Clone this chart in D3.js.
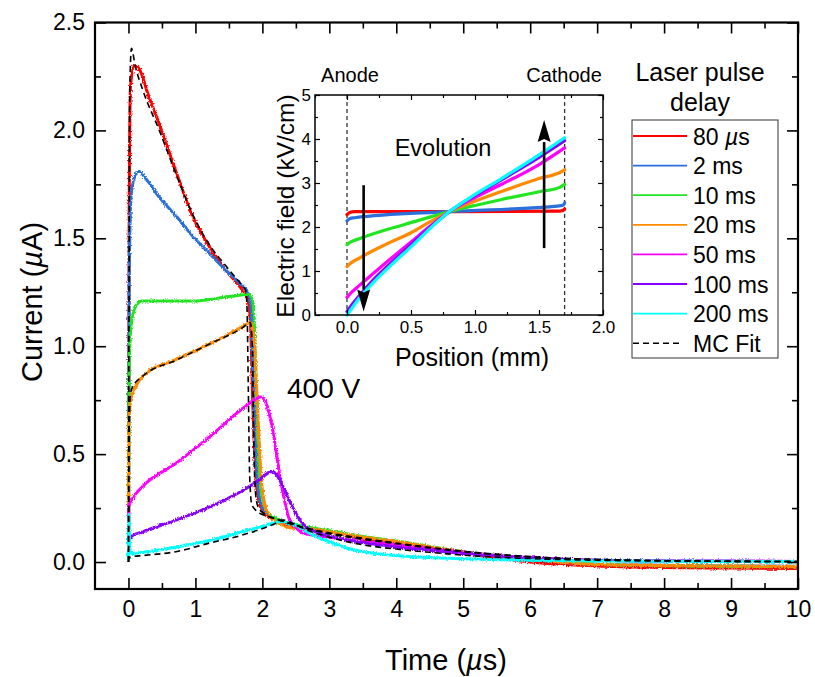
<!DOCTYPE html>
<html>
<head>
<meta charset="utf-8">
<script src="https://cdn.jsdelivr.net/npm/d3@7"></script>
<style>
  html, body { margin: 0; padding: 0; background: #fff; }
  svg { display: block; font-family: Arial, "Liberation Sans", sans-serif; }
</style>
</head>
<body>
<svg id="chart" width="815" height="677"></svg>
<script>
// ---- Transient photocurrent (µA) vs time (µs) for each laser pulse delay ----
const delays = ["80 µs", "2 ms", "10 ms", "20 ms", "50 ms", "100 ms", "200 ms"];
const colors = ["#ff0000", "#2a6fdb", "#22e522", "#ff8a00", "#ff00ff", "#8a00ff", "#00ffff"];

const current80us = [[0,0],[0.01,1.6],[0.03,2.2],[0.08,2.30],[0.15,2.29],[0.3,2.16],[0.46,2.03],[0.72,1.80],[0.96,1.60],[1.21,1.46],[1.46,1.35],[1.70,1.26],[1.78,1.22],[1.82,1.12],[1.86,0.7],[1.90,0.40],[1.95,0.28],[2.02,0.23],[2.15,0.2],[2.3,0.18],[2.5,0.165],[2.75,0.155],[3,0.14],[3.5,0.11],[4,0.09],[4.5,0.065],[5,0.04],[5.5,0.02],[6,0.0],[7,-0.018],[8,-0.025],[9,-0.028],[10,-0.03]];
const current2ms = [[0,0],[0.01,1.3],[0.04,1.7],[0.1,1.79],[0.16,1.81],[0.25,1.78],[0.46,1.69],[0.72,1.60],[0.96,1.51],[1.21,1.43],[1.46,1.35],[1.70,1.28],[1.78,1.25],[1.83,1.18],[1.88,0.7],[1.92,0.4],[1.97,0.28],[2.05,0.23],[2.2,0.2],[2.4,0.18],[2.75,0.155],[3,0.14],[3.5,0.115],[4,0.095],[4.5,0.07],[5,0.045],[5.5,0.028],[6,0.012],[7,-0.01],[8,-0.015],[9,-0.018],[10,-0.02]];
const current10ms = [[0,0],[0.01,0.9],[0.04,1.1],[0.1,1.18],[0.2,1.21],[0.5,1.21],[1.0,1.21],[1.5,1.23],[1.8,1.24],[1.86,1.2],[1.91,0.8],[1.95,0.45],[2.0,0.3],[2.08,0.23],[2.2,0.2],[2.4,0.18],[2.75,0.158],[3,0.145],[3.5,0.118],[4,0.097],[4.5,0.072],[5,0.048],[5.5,0.03],[6,0.015],[7,-0.01],[8,-0.017],[9,-0.02],[10,-0.022]];
const current20ms = [[0,0],[0.005,0.65],[0.04,0.76],[0.12,0.82],[0.21,0.86],[0.72,0.94],[1.21,1.01],[1.70,1.09],[1.82,1.11],[1.87,1.05],[1.93,0.7],[1.98,0.4],[2.05,0.25],[2.15,0.2],[2.3,0.17],[2.5,0.155],[2.75,0.152],[3,0.14],[3.5,0.115],[4,0.095],[4.5,0.07],[5,0.046],[5.5,0.028],[6,0.013],[7,-0.012],[8,-0.016],[9,-0.019],[10,-0.021]];
const current50ms = [[0,0],[0.005,0.26],[0.05,0.29],[0.21,0.35],[0.72,0.46],[1.21,0.58],[1.70,0.71],[1.9,0.755],[1.98,0.765],[2.05,0.74],[2.15,0.62],[2.25,0.42],[2.32,0.3],[2.4,0.2],[2.5,0.16],[2.6,0.135],[2.75,0.125],[3,0.115],[3.5,0.095],[4,0.08],[4.5,0.062],[5,0.045],[5.5,0.03],[6,0.02],[7,0.008],[8,0.005],[10,0.003]];
const current100ms = [[0,0],[0.005,0.1],[0.05,0.12],[0.21,0.14],[0.72,0.195],[1.21,0.255],[1.70,0.33],[1.95,0.38],[2.14,0.42],[2.2,0.41],[2.26,0.38],[2.35,0.32],[2.45,0.255],[2.55,0.2],[2.66,0.16],[2.8,0.14],[3,0.12],[3.5,0.09],[4,0.07],[4.5,0.055],[5,0.04],[6,0.02],[7,0.008],[8,0.005],[10,0.003]];
const current200ms = [[0,0],[0.005,0.22],[0.02,0.06],[0.05,0.04],[0.21,0.045],[0.72,0.07],[1.21,0.10],[1.70,0.14],[2.0,0.165],[2.26,0.187],[2.4,0.18],[2.5,0.17],[2.75,0.125],[3,0.094],[3.25,0.065],[3.5,0.048],[4,0.03],[5,0.015],[6,0.008],[7,0.005],[8,0.004],[10,0.002]];
const currents = [current80us, current2ms, current10ms, current20ms, current50ms, current100ms, current200ms];

// Monte Carlo fits
const fit80us = [[0,0],[0.02,2.2],[0.045,2.38],[0.1,2.3],[0.21,2.19],[0.46,2.0],[0.72,1.79],[0.96,1.61],[1.21,1.47],[1.46,1.37],[1.70,1.28],[1.75,1.26],[1.77,1.18],[1.79,0.8],[1.81,0.4],[1.84,0.27],[1.9,0.24],[2.0,0.22],[2.2,0.2],[2.5,0.17],[3,0.135],[3.5,0.11],[4,0.088],[4.5,0.068],[5,0.05],[6,0.025],[7,0.012],[8,0.006],[10,0.002]];
const fit20ms = [[0,0],[0.01,0.6],[0.03,0.78],[0.06,0.81],[0.21,0.86],[0.71,0.935],[1.21,1.01],[1.70,1.085],[1.82,1.11],[1.85,1.0],[1.87,0.6],[1.89,0.35],[1.93,0.26],[2.0,0.23],[2.2,0.2],[2.5,0.17],[3,0.13],[3.5,0.105],[4,0.085],[4.5,0.065],[5,0.048],[6,0.024],[7,0.011],[8,0.006],[10,0.002]];
const fit200ms = [[0,0],[0.01,0.02],[0.05,0.025],[0.21,0.03],[0.71,0.048],[1.21,0.088],[1.70,0.125],[2.2,0.18],[2.3,0.195],[2.45,0.18],[2.6,0.157],[3,0.115],[3.5,0.08],[4,0.06],[4.5,0.045],[5,0.032],[6,0.016],[7,0.008],[8,0.005],[10,0.002]];
const fits = [fit80us, fit20ms, fit200ms];

const xTicks = [0,1,2,3,4,5,6,7,8,9,10];
const yTicks = [0,0.5,1.0,1.5,2.0,2.5];

// ---- Inset: electric field (kV/cm) vs position (mm) ----
const field80us = [[0,2.28],[0.02,2.33],[0.06,2.35],[0.8,2.35],[1.66,2.36],[1.69,2.38],[1.7,2.41]];
const field2ms = [[0,2.14],[0.02,2.19],[0.06,2.21],[0.8,2.35],[1.66,2.48],[1.69,2.5],[1.7,2.55]];
const field10ms = [[0,1.6],[0.03,1.66],[0.1,1.74],[0.3,1.93],[0.5,2.1],[0.8,2.35],[1.0,2.49],[1.2,2.62],[1.5,2.8],[1.66,2.9],[1.7,2.97]];
const field20ms = [[0,1.1],[0.03,1.18],[0.1,1.3],[0.3,1.6],[0.5,1.87],[0.65,2.12],[0.8,2.35],[1.0,2.59],[1.2,2.8],[1.5,3.1],[1.67,3.25],[1.7,3.3]];
const field50ms = [[0,0.4],[0.03,0.5],[0.1,0.68],[0.2,0.93],[0.35,1.3],[0.5,1.66],[0.65,2.02],[0.8,2.35],[1.0,2.67],[1.2,2.96],[1.5,3.42],[1.7,3.8]];
const field100ms = [[0,0.08],[0.03,0.2],[0.1,0.45],[0.2,0.78],[0.35,1.2],[0.5,1.6],[0.65,1.99],[0.8,2.35],[1.0,2.72],[1.2,3.06],[1.5,3.58],[1.7,3.96]];
const field200ms = [[0,0.0],[0.03,0.12],[0.1,0.4],[0.2,0.72],[0.35,1.15],[0.5,1.55],[0.65,1.97],[0.8,2.35],[1.0,2.74],[1.2,3.09],[1.5,3.64],[1.7,4.03]];
const fields = [field80us, field2ms, field10ms, field20ms, field50ms, field100ms, field200ms];
const electrodePositions = [0, 1.7];
const insetXTicks = [0, 0.5, 1.0, 1.5, 2.0];
const insetYTicks = [0, 1, 2, 3, 4, 5];
// evolution arrows: [position, from field, to field]
const arrows = [[0.13, 2.95, 0.08], [1.54, 1.52, 4.43]];

const svg = d3.select("#chart");
const FONT = 'Arial, "Liberation Sans", sans-serif';
const defs = svg.append("defs");

// fine jitter for the measured traces (oscilloscope noise look)
const noise = defs.append("filter").attr("id", "traceNoise")
  .attr("x", "-2%").attr("y", "-2%").attr("width", "104%").attr("height", "104%");
noise.append("feTurbulence").attr("type", "fractalNoise").attr("baseFrequency", "0.9 0.6")
  .attr("numOctaves", 1).attr("seed", 3).attr("result", "n");
noise.append("feDisplacementMap").attr("in", "SourceGraphic").attr("in2", "n")
  .attr("scale", 4).attr("xChannelSelector", "R").attr("yChannelSelector", "G");

// ===== Main plot =====
const x = d3.scaleLinear().domain([-0.5, 10]).range([95, 798]);
const y = d3.scaleLinear().domain([-0.125, 2.5]).range([589, 22.5]);

function drawTicks(g, xs, ys, xTickVals, xMinor, yTickVals, yMinor, major, minor, sw) {
  const [x0, x1] = xs.range(), [y0, y1] = ys.range();
  const addAxis = (axis, tr) => {
    const a = g.append("g").attr("transform", tr).call(axis);
    a.select(".domain").remove();
    a.selectAll("line").attr("stroke", "#000").attr("stroke-width", sw);
  };
  addAxis(d3.axisBottom(xs).tickValues(xTickVals).tickSize(-major).tickFormat(""), `translate(0,${y0})`);
  addAxis(d3.axisBottom(xs).tickValues(xMinor).tickSize(-minor).tickFormat(""), `translate(0,${y0})`);
  addAxis(d3.axisTop(xs).tickValues(xTickVals).tickSize(-major).tickFormat(""), `translate(0,${y1})`);
  addAxis(d3.axisTop(xs).tickValues(xMinor).tickSize(-minor).tickFormat(""), `translate(0,${y1})`);
  addAxis(d3.axisLeft(ys).tickValues(yTickVals).tickSize(-major).tickFormat(""), `translate(${x0},0)`);
  addAxis(d3.axisLeft(ys).tickValues(yMinor).tickSize(-minor).tickFormat(""), `translate(${x0},0)`);
  addAxis(d3.axisRight(ys).tickValues(yTickVals).tickSize(-major).tickFormat(""), `translate(${x1},0)`);
  addAxis(d3.axisRight(ys).tickValues(yMinor).tickSize(-minor).tickFormat(""), `translate(${x1},0)`);
}

const main = svg.append("g");
defs.append("clipPath").attr("id", "mainClip").append("rect")
  .attr("x", 95).attr("y", 22.5).attr("width", 703).attr("height", 566.5);

const line = d3.line().x(d => x(d[0])).y(d => y(d[1])).curve(d3.curveMonotoneX);
const plotArea = main.append("g").attr("clip-path", "url(#mainClip)");
const traces = plotArea.append("g").attr("filter", "url(#traceNoise)");
currents.forEach((s, i) => {
  traces.append("path").datum(s).attr("d", line)
    .attr("fill", "none").attr("stroke", colors[i]).attr("stroke-width", 3)
    .attr("stroke-linejoin", "round");
});
fits.forEach(s => {
  plotArea.append("path").datum(s).attr("d", line)
    .attr("fill", "none").attr("stroke", "#000").attr("stroke-width", 1.6)
    .attr("stroke-dasharray", "6,4");
});

const xMinorMain = d3.range(0.5, 10, 1);
const yMinorMain = [0.25, 0.75, 1.25, 1.75, 2.25];
drawTicks(main, x, y, xTicks, xMinorMain, yTicks, yMinorMain, 11, 6, 1.6);

main.append("rect").attr("x", 95).attr("y", 22.5).attr("width", 703).attr("height", 566.5)
  .attr("fill", "none").attr("stroke", "#000").attr("stroke-width", 2.2);

// tick labels
const xLab = main.append("g").attr("transform", "translate(0,589)")
  .call(d3.axisBottom(x).tickValues(xTicks).tickSize(0).tickPadding(12).tickFormat(d3.format("d")));
xLab.select(".domain").remove();
xLab.selectAll("text").attr("font-size", 23).attr("font-family", FONT).attr("fill", "#000");
const yLab = main.append("g").attr("transform", "translate(95,0)")
  .call(d3.axisLeft(y).tickValues(yTicks).tickSize(0).tickPadding(10).tickFormat(d3.format(".1f")));
yLab.select(".domain").remove();
yLab.selectAll("text").attr("font-size", 23).attr("font-family", FONT).attr("fill", "#000");

// axis titles
const xTitle = main.append("text").attr("x", 446).attr("y", 670).attr("text-anchor", "middle")
  .attr("font-size", 29).attr("fill", "#000");
xTitle.append("tspan").text("Time (");
xTitle.append("tspan").attr("font-style", "italic").text("µ");
xTitle.append("tspan").text("s)");

const yTitle = main.append("text").attr("transform", "translate(42,302) rotate(-90)")
  .attr("text-anchor", "middle").attr("font-size", 29).attr("fill", "#000");
yTitle.append("tspan").text("Current (");
yTitle.append("tspan").attr("font-style", "italic").text("µ");
yTitle.append("tspan").text("A)");

main.append("text").attr("x", 287).attr("y", 398).attr("font-size", 28).attr("fill", "#000").text("400 V");

// ===== Legend =====
const legend = svg.append("g");
legend.append("text").attr("x", 700).attr("y", 81).attr("text-anchor", "middle")
  .attr("font-size", 25).text("Laser pulse");
legend.append("text").attr("x", 700).attr("y", 111).attr("text-anchor", "middle")
  .attr("font-size", 25).text("delay");
legend.append("rect").attr("x", 632).attr("y", 120).attr("width", 146).attr("height", 238)
  .attr("fill", "#fff").attr("stroke", "#333").attr("stroke-width", 1);
const legendLabels = delays.concat(["MC Fit"]);
legendLabels.forEach((lab, i) => {
  const cy = 136 + i * 29.6;
  const isFit = i === delays.length;
  legend.append("line").attr("x1", 633).attr("x2", isFit ? 682 : 687).attr("y1", cy).attr("y2", cy)
    .attr("stroke", isFit ? "#000" : colors[i]).attr("stroke-width", isFit ? 1.5 : 1.8)
    .attr("stroke-dasharray", isFit ? "6,4" : null);
  const t = legend.append("text").attr("x", 693).attr("y", cy + 8.5).attr("font-size", 23).attr("fill", "#000");
  if (lab.includes("µ")) {
    const [a, b] = lab.split("µ");
    t.append("tspan").text(a);
    t.append("tspan").attr("font-style", "italic").text("µ");
    t.append("tspan").text(b);
  } else {
    t.text(lab);
  }
});

// ===== Inset =====
const ix = d3.scaleLinear().domain([-0.25, 2.0]).range([315, 603]);
const iy = d3.scaleLinear().domain([0, 5]).range([315, 95]);
const inset = svg.append("g");
inset.append("rect").attr("x", 315).attr("y", 95).attr("width", 288).attr("height", 220).attr("fill", "#fff");

electrodePositions.forEach(p => {
  inset.append("line").attr("x1", ix(p)).attr("x2", ix(p)).attr("y1", 95).attr("y2", 315)
    .attr("stroke", "#333").attr("stroke-width", 1.3).attr("stroke-dasharray", "4,3");
});

const iline = d3.line().x(d => ix(d[0])).y(d => iy(d[1])).curve(d3.curveMonotoneX);
fields.forEach((s, i) => {
  inset.append("path").datum(s).attr("d", iline)
    .attr("fill", "none").attr("stroke", colors[i]).attr("stroke-width", 3.2)
    .attr("stroke-linecap", "round");
});

// arrows
arrows.forEach(([p, f0, f1]) => {
  const up = f1 > f0;
  const xp = ix(p), y0 = iy(f0), y1 = iy(f1);
  const headLen = 22, headW = 6.5;
  const yBase = up ? y1 + headLen : y1 - headLen;
  inset.append("line").attr("x1", xp).attr("x2", xp).attr("y1", y0).attr("y2", yBase)
    .attr("stroke", "#000").attr("stroke-width", 2.6);
  inset.append("path")
    .attr("d", `M${xp},${y1}L${xp - headW},${yBase}L${xp},${yBase + (up ? -3 : 3)}L${xp + headW},${yBase}Z`)
    .attr("fill", "#000");
});

drawTicks(inset, ix, iy, insetXTicks, [-0.25, 0.25, 0.75, 1.25, 1.75], insetYTicks, [0.5, 1.5, 2.5, 3.5, 4.5], 5, 3, 1.2);

inset.append("rect").attr("x", 315).attr("y", 95).attr("width", 288).attr("height", 220)
  .attr("fill", "none").attr("stroke", "#000").attr("stroke-width", 1.5);

const ixLab = inset.append("g").attr("transform", "translate(0,315)")
  .call(d3.axisBottom(ix).tickValues(insetXTicks).tickSize(0).tickPadding(6).tickFormat(d3.format(".1f")));
ixLab.select(".domain").remove();
ixLab.selectAll("text").attr("font-size", 17).attr("font-family", FONT).attr("fill", "#000");
const iyLab = inset.append("g").attr("transform", "translate(315,0)")
  .call(d3.axisLeft(iy).tickValues(insetYTicks).tickSize(0).tickPadding(4).tickFormat(d3.format("d")));
iyLab.select(".domain").remove();
iyLab.selectAll("text").attr("font-size", 17).attr("font-family", FONT).attr("fill", "#000");

inset.append("text").attr("x", 472).attr("y", 366).attr("text-anchor", "middle")
  .attr("font-size", 25).text("Position (mm)");
inset.append("text").attr("transform", "translate(294,206) rotate(-90)").attr("text-anchor", "middle")
  .attr("font-size", 24.5).text("Electric field (kV/cm)");
inset.append("text").attr("x", 350).attr("y", 82).attr("text-anchor", "middle")
  .attr("font-size", 20).text("Anode");
inset.append("text").attr("x", 564).attr("y", 82).attr("text-anchor", "middle")
  .attr("font-size", 20).text("Cathode");
inset.append("text").attr("x", 443).attr("y", 156).attr("text-anchor", "middle")
  .attr("font-size", 23.5).text("Evolution");
</script>
</body>
</html>
